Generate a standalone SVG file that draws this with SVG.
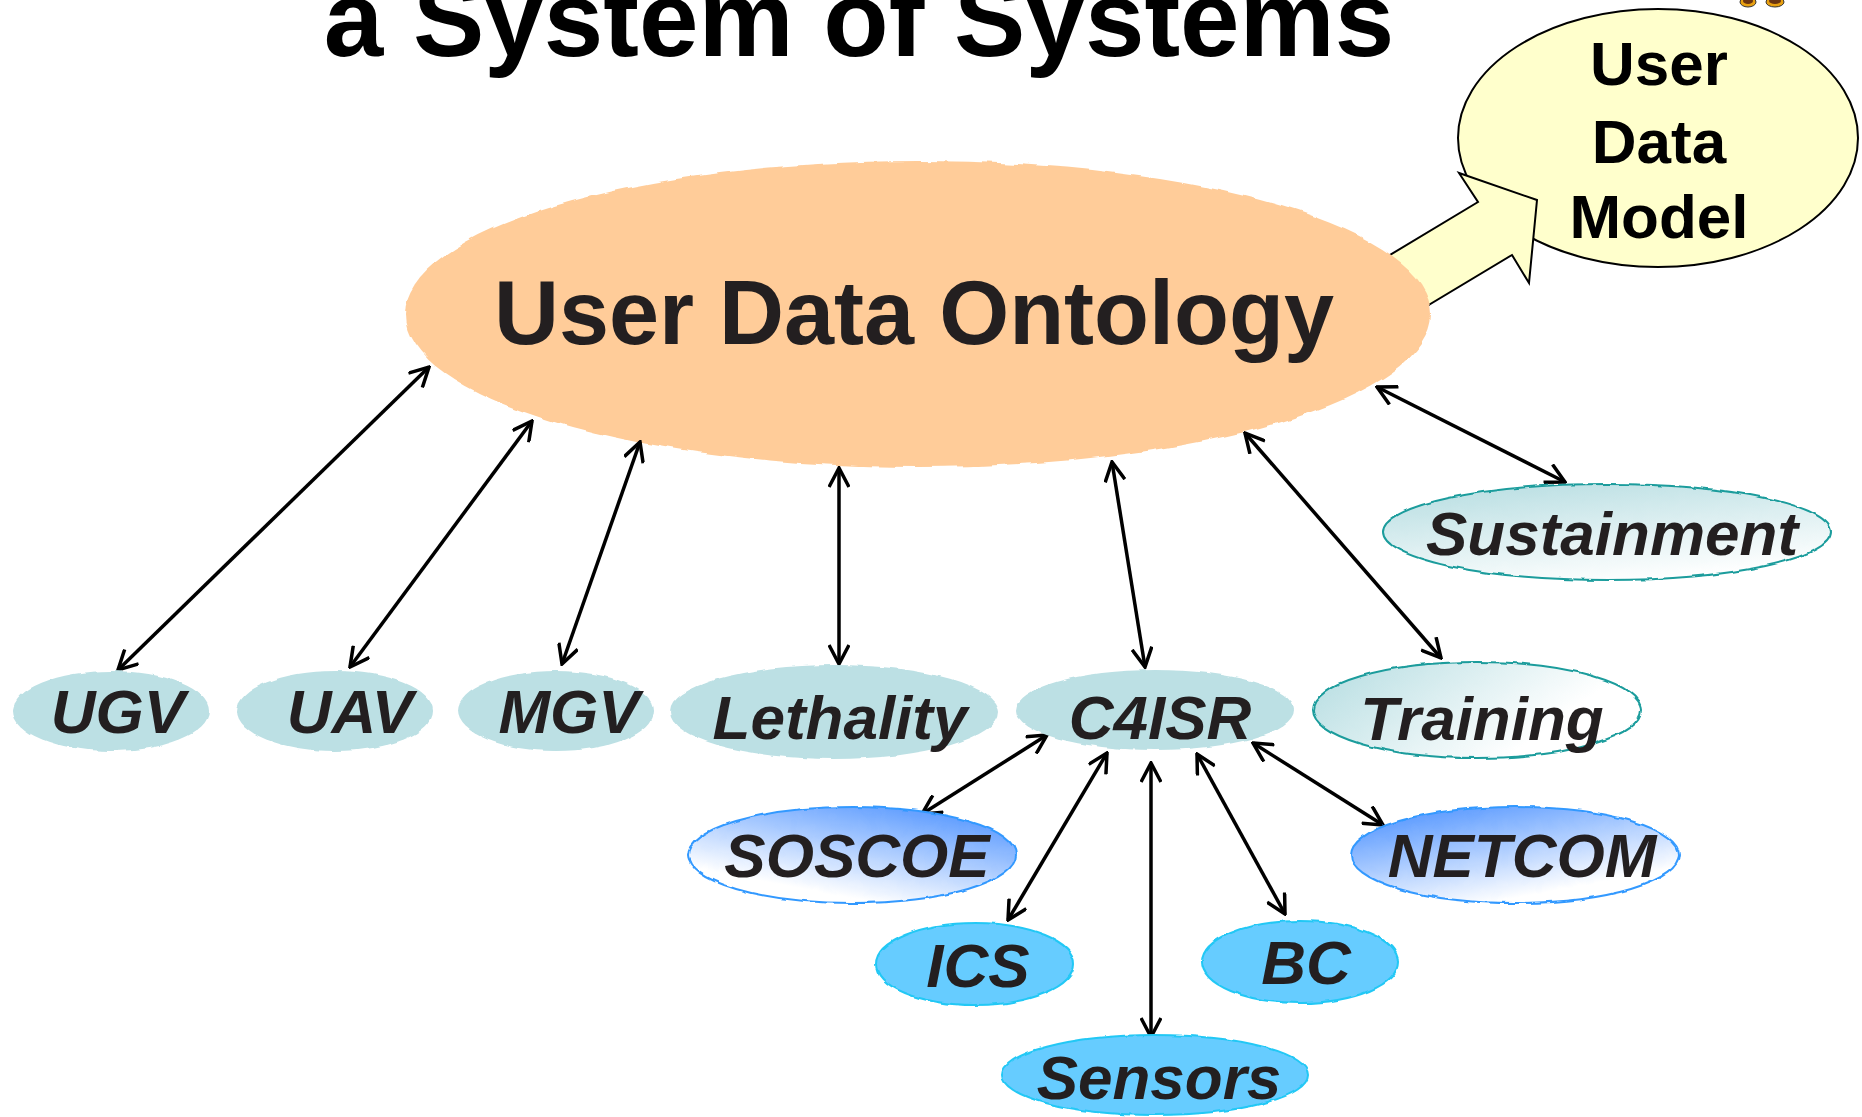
<svg xmlns="http://www.w3.org/2000/svg" width="1862" height="1117" viewBox="0 0 1862 1117">
<defs>
<style>
.lbl{font-family:"Liberation Sans",Arial,sans-serif;font-weight:bold;font-style:italic;font-size:62px;fill:#231F20;text-anchor:middle}
.plain{font-family:"Liberation Sans",Arial,sans-serif;font-weight:bold;text-anchor:middle}
.tealsolid{fill:#BCE0E4}
.sky{fill:#66CCFF;stroke:#22C8F5;stroke-width:2}
.bluegrad{stroke:#3399FF;stroke-width:2}
.tealgrad{stroke:#1A9C9C;stroke-width:2}
.conn line{stroke:#000;stroke-width:3.5;fill:none;marker-start:url(#ah);marker-end:url(#ah)}
</style>
<marker id="ah" viewBox="0 0 22 22" refX="20" refY="11" markerWidth="22" markerHeight="22" orient="auto-start-reverse" markerUnits="userSpaceOnUse">
<path d="M1,1 L20,11 L1,21" fill="none" stroke="#000" stroke-width="3.5"/>
</marker>
<filter id="rough" x="-5%" y="-10%" width="110%" height="120%">
<feTurbulence type="fractalNoise" baseFrequency="0.09" numOctaves="1" seed="4" result="n"/>
<feDisplacementMap in="SourceGraphic" in2="n" scale="4" xChannelSelector="R" yChannelSelector="G"/>
</filter>
<filter id="roughBig" x="-3%" y="-5%" width="106%" height="110%">
<feTurbulence type="fractalNoise" baseFrequency="0.05" numOctaves="1" seed="7" result="n"/>
<feDisplacementMap in="SourceGraphic" in2="n" scale="7" xChannelSelector="R" yChannelSelector="G"/>
</filter>
<linearGradient id="gTrain" x1="0" y1="0.3" x2="1" y2="0.7">
<stop offset="0" stop-color="#BCE0E4"/>
<stop offset="0.75" stop-color="#FFFFFF"/>
</linearGradient>
<linearGradient id="gSust" x1="0.15" y1="0" x2="0.6" y2="1">
<stop offset="0" stop-color="#B8DEE2"/>
<stop offset="1" stop-color="#FFFFFF"/>
</linearGradient>
<linearGradient id="gSos" x1="0.9" y1="0" x2="0.25" y2="1">
<stop offset="0" stop-color="#4A90FF"/>
<stop offset="0.85" stop-color="#FFFFFF"/>
</linearGradient>
<linearGradient id="gNet" x1="0.1" y1="0" x2="0.75" y2="1">
<stop offset="0" stop-color="#4A90FF"/>
<stop offset="0.85" stop-color="#FFFFFF"/>
</linearGradient>
</defs>
<rect x="0" y="0" width="1862" height="1117" fill="#FFFFFF"/>

<text id="title" class="plain" x="859" y="56" font-size="107" fill="#000">a System of Systems</text>

<g id="clipart">
<ellipse cx="1748" cy="2" rx="8" ry="5" fill="#E8A010" stroke="#333" stroke-width="1"/>
<ellipse cx="1748" cy="1" rx="5" ry="3" fill="#6B3410"/>
<ellipse cx="1775" cy="2" rx="9" ry="5" fill="#E8A010" stroke="#333" stroke-width="1"/>
<ellipse cx="1775" cy="1" rx="6" ry="3" fill="#6B3410"/>
</g>

<g id="user-data-model">
<ellipse cx="1658" cy="138" rx="200" ry="129" fill="#FFFFCC" stroke="#000" stroke-width="2"/>
<polygon points="1350,279 1478,202 1459,173 1537,200 1529,283 1512,255 1392,327" fill="#FFFFCC" stroke="#000" stroke-width="2" stroke-linejoin="miter"/>
<text class="plain" x="1659" y="85" font-size="62" fill="#000">User</text>
<text class="plain" x="1659" y="163" font-size="62" fill="#000">Data</text>
<text class="plain" x="1659" y="238" font-size="62" fill="#000">Model</text>
</g>

<g id="ontology">
<ellipse cx="918" cy="314" rx="513" ry="153" fill="#FFCC99" filter="url(#roughBig)"/>
<text class="plain" x="914" y="344" font-size="90" fill="#231F20">User Data Ontology</text>
</g>

<g id="connectors" class="conn">
<line x1="429" y1="367" x2="118" y2="670"/>
<line x1="532" y1="421" x2="350" y2="667"/>
<line x1="640" y1="442" x2="562" y2="664"/>
<line x1="839" y1="468" x2="839" y2="664"/>
<line x1="1112" y1="462" x2="1145" y2="667"/>
<line x1="1245" y1="433" x2="1441" y2="658"/>
<line x1="1377" y1="387" x2="1565" y2="482"/>
<line x1="1047" y1="735" x2="922" y2="814"/>
<line x1="1107" y1="753" x2="1008" y2="920"/>
<line x1="1151" y1="763" x2="1151" y2="1037"/>
<line x1="1197" y1="754" x2="1285" y2="914"/>
<line x1="1253" y1="743" x2="1383" y2="825"/>
</g>

<g id="ugv"><ellipse class="tealsolid" cx="111" cy="711" rx="98" ry="40" filter="url(#rough)"/><text class="lbl" x="118" y="733">UGV</text></g>
<g id="uav"><ellipse class="tealsolid" cx="335" cy="711" rx="98" ry="40" filter="url(#rough)"/><text class="lbl" x="350" y="733">UAV</text></g>
<g id="mgv"><ellipse class="tealsolid" cx="556" cy="711" rx="98" ry="40" filter="url(#rough)"/><text class="lbl" x="569" y="733">MGV</text></g>
<g id="lethality"><ellipse class="tealsolid" cx="834" cy="712" rx="164" ry="47" filter="url(#rough)"/><text class="lbl" x="840" y="739">Lethality</text></g>
<g id="c4isr"><ellipse class="tealsolid" cx="1155" cy="710" rx="139" ry="40" filter="url(#rough)"/><text class="lbl" x="1160" y="739">C4ISR</text></g>
<g id="training"><ellipse class="tealgrad" fill="url(#gTrain)" cx="1477" cy="710" rx="164" ry="48" filter="url(#rough)"/><text class="lbl" x="1482" y="740">Training</text></g>
<g id="sustainment"><ellipse class="tealgrad" fill="url(#gSust)" cx="1607" cy="532" rx="224" ry="48" filter="url(#rough)"/><text class="lbl" x="1612" y="555">Sustainment</text></g>
<g id="soscoe"><ellipse class="bluegrad" fill="url(#gSos)" cx="852" cy="855" rx="164" ry="48" filter="url(#rough)"/><text class="lbl" x="857" y="877">SOSCOE</text></g>
<g id="netcom"><ellipse class="bluegrad" fill="url(#gNet)" cx="1515" cy="855" rx="164" ry="48" filter="url(#rough)"/><text class="lbl" x="1522" y="877">NETCOM</text></g>
<g id="ics"><ellipse class="sky" cx="975" cy="964" rx="99" ry="41" filter="url(#rough)"/><text class="lbl" x="978" y="987">ICS</text></g>
<g id="bc"><ellipse class="sky" cx="1300" cy="962" rx="98" ry="41" filter="url(#rough)"/><text class="lbl" x="1306" y="984">BC</text></g>
<g id="sensors"><ellipse class="sky" cx="1155" cy="1075" rx="153" ry="40" filter="url(#rough)"/><text class="lbl" x="1159" y="1099">Sensors</text></g>
</svg>
